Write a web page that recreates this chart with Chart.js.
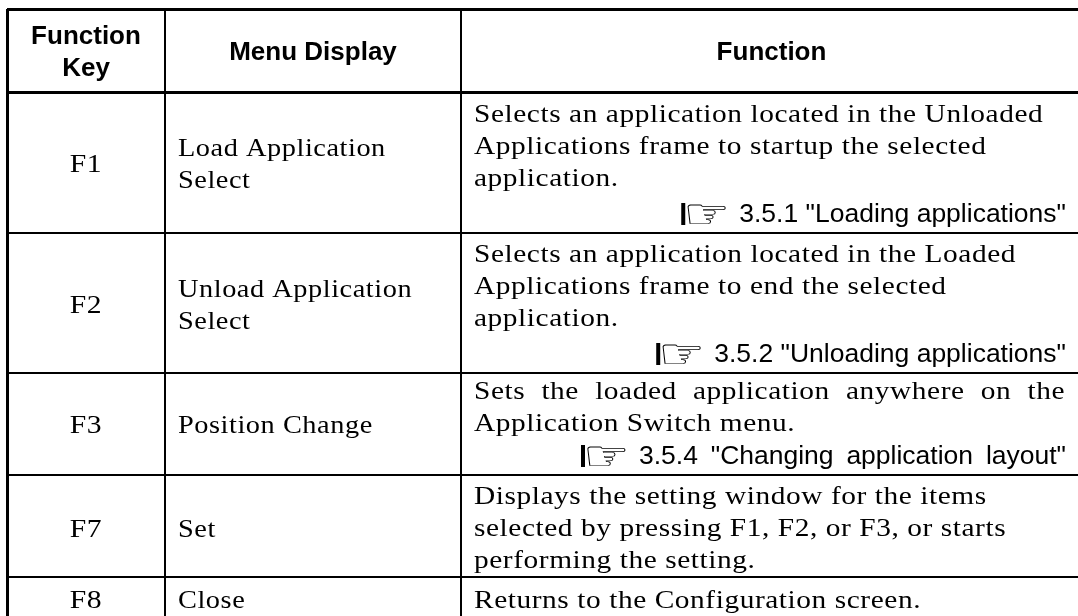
<!DOCTYPE html>
<html>
<head>
<meta charset="utf-8">
<script src="https://cdn.jsdelivr.net/npm/chart.js@4"></script>
<style>
    body { margin: 0; background: #fff; }
    canvas { display: block; }
</style>
</head>
<body>
<canvas id="myChart" width="1078" height="616"></canvas>
<script>
const columnEdges = [7, 165, 461];
const rowEdges    = [9, 92, 233, 373, 475, 577];

const headers   = [['Function', 'Key'], ['Menu Display'], ['Function']];
const keys      = ['F1', 'F2', 'F3', 'F7', 'F8'];
const menuNames = [
    ['Load Application', 'Select'],
    ['Unload Application', 'Select'],
    ['Position Change'],
    ['Set'],
    ['Close']
];
const functions = [
    ['Selects an application located in the Unloaded', 'Applications frame to startup the selected', 'application.'],
    ['Selects an application located in the Loaded', 'Applications frame to end the selected', 'application.'],
    ['Sets the loaded application anywhere on the', 'Application Switch menu.'],
    ['Displays the setting window for the items', 'selected by pressing F1, F2, or F3, or starts', 'performing the setting.'],
    ['Returns to the Configuration screen.']
];
const references = [
    '3.5.1 "Loading applications"',
    '3.5.2 "Unloading applications"',
    '3.5.4 "Changing application layout"',
    null,
    null
];

const SERIF = '26px "Liberation Serif"';
const SANS  = '26.5px "Liberation Sans"';
const BOLD  = 'bold 26px "Liberation Sans"';
const PITCH = 32;
const RIGHT_EDGE = 1066;

// nudges per row, the original lines are not centred exactly
const keyShift  = [0.5, 0.5, 0, 2, 2.5];
const textShift = [-2, -2, -2, 1, 2.5];

// lines that are stretched with word spacing in the original
const justified = {
    'Sets the loaded application anywhere on the': 591,
    '3.5.4 "Changing application layout"': 427
};

const drawSerif = (ctx, text, x, y, align, stretch) => {
    ctx.save();
    ctx.translate(x, y);
    ctx.scale(stretch, 1);
    ctx.font = SERIF;
    ctx.letterSpacing = '0.5px';
    ctx.textAlign = align;
    const target = justified[text];
    if (target) {
        const gaps = text.split(' ').length - 1;
        const extra = (target / stretch - ctx.measureText(text).width) / gaps;
        ctx.wordSpacing = extra + 'px';
    }
    ctx.fillText(text, 0, 0);
    ctx.restore();
};

const drawReference = (ctx, text, y) => {
    ctx.save();
    ctx.font = SANS;
    ctx.textAlign = 'right';
    const target = justified[text];
    if (target) {
        const gaps = text.split(' ').length - 1;
        ctx.wordSpacing = (target - ctx.measureText(text).width) / gaps + 'px';
    }
    ctx.fillText(text, RIGHT_EDGE, y);
    const tip = RIGHT_EDGE - ctx.measureText(text).width - 12;
    ctx.restore();

    ctx.save();
    ctx.translate(tip, y + 6);
    ctx.scale(1.15, 0.9);
    ctx.font = '46px "DejaVu Sans"';
    ctx.textAlign = 'right';
    ctx.fillText('\u261E', 3, 0);
    ctx.restore();
    ctx.fillRect(tip - 46, y - 19, 4, 22);
};

const tableText = {
    id: 'tableText',
    afterDraw(chart) {
        const { ctx, scales: { x, y } } = chart;
        const colX = (i) => x.getPixelForValue(columnEdges[i]);
        const rowY = (i) => y.getPixelForValue(rowEdges[i]);
        const bottom = y.getPixelForValue(y.max);

        ctx.save();
        ctx.fillStyle = '#000';
        ctx.textBaseline = 'alphabetic';

        // header row
        ctx.font = BOLD;
        ctx.textAlign = 'center';
        const headerMid = (rowY(0) + rowY(1)) / 2;
        const centers = [colX(0) + 79, (colX(1) + colX(2)) / 2, (colX(2) + x.getPixelForValue(x.max)) / 2 + 2];
        headers.forEach((lines, c) => {
            lines.forEach((line, i) => {
                ctx.fillText(line, centers[c], headerMid + 9 + (i - (lines.length - 1) / 2) * PITCH);
            });
        });

        keys.forEach((key, r) => {
            const top = rowY(r + 1);
            const end = r + 2 < rowEdges.length ? rowY(r + 2) : bottom;
            const mid = (top + end) / 2 + 9;

            drawSerif(ctx, key, centers[0], mid + keyShift[r], 'center', 1.14);

            menuNames[r].forEach((line, i) => {
                const lineY = mid + keyShift[r] + (i - (menuNames[r].length - 1) / 2) * PITCH;
                drawSerif(ctx, line, colX(1) + 13, lineY, 'left', 1.09);
            });

            const lines = functions[r];
            const count = lines.length + (references[r] ? 1 : 0);
            lines.forEach((line, i) => {
                const lineY = mid + textShift[r] + (i - (count - 1) / 2) * PITCH;
                drawSerif(ctx, line, colX(2) + 13, lineY, 'left', 1.13);
            });
            if (references[r]) {
                drawReference(ctx, references[r], end - 11);
            }
        });
        ctx.restore();
    }
};

new Chart(document.getElementById('myChart'), {
    type: 'scatter',
    data: { datasets: [] },
    plugins: [tableText],
    options: {
        responsive: false,
        animation: false,
        layout: { padding: { left: columnEdges[0], top: rowEdges[0] } },
        plugins: { legend: { display: false }, tooltip: { enabled: false } },
        scales: {
            x: {
                type: 'linear',
                position: 'top',
                min: columnEdges[0],
                max: 1078,
                border: { display: false },
                ticks: { display: false },
                afterBuildTicks: (axis) => { axis.ticks = columnEdges.map((value) => ({ value })); },
                grid: {
                    color: '#000',
                    lineWidth: (context) => (context.index === 0 ? 3 : 2),
                    drawTicks: false
                }
            },
            y: {
                type: 'linear',
                reverse: true,
                min: rowEdges[0],
                max: 616,
                border: { display: false },
                ticks: { display: false },
                afterBuildTicks: (axis) => { axis.ticks = rowEdges.map((value) => ({ value })); },
                grid: {
                    color: '#000',
                    lineWidth: (context) => (context.index < 2 ? 3 : 2),
                    drawTicks: false
                }
            }
        }
    }
});
</script>
</body>
</html>
